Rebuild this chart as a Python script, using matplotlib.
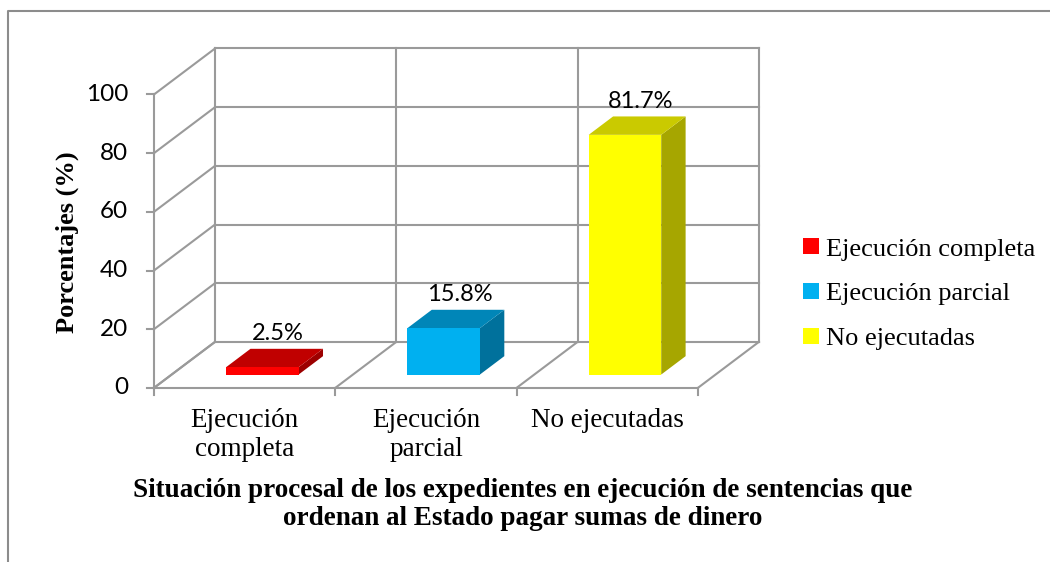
import matplotlib.pyplot as plt
from matplotlib.patches import Polygon, Patch
from matplotlib.lines import Line2D

# Data taken from the chart
categories = ["Ejecución\ncompleta", "Ejecución\nparcial", "No ejecutadas"]
legend_labels = ["Ejecución completa", "Ejecución parcial", "No ejecutadas"]
values = [2.5, 15.8, 81.7]
value_labels = ["2.5%", "15.8%", "81.7%"]
y_ticks = [0, 20, 40, 60, 80, 100]

# colors for front / top / side of each bar
front_colors = ["#FF0000", "#00B0F0", "#FFFF00"]
top_colors = ["#C00000", "#0086B8", "#CACA00"]
side_colors = ["#9C0000", "#00719C", "#A6A600"]

GRID = "#9A9A9A"
SERIF = "Liberation Serif"

# oblique "3d" setup, in data units (x = categories, y = percent)
DX = 0.3365   # depth shift in x
DY = 15.67    # depth shift in y
d0, d1 = 0.29, 0.69  # front / back of each bar as fraction of depth
bar_w = 0.40

fig = plt.figure(figsize=(10.5, 5.62), dpi=100)
ax = fig.add_axes([0, 0, 1, 1])
ax.set_xlim(-0.8494, 4.942)
ax.set_ylim(-59.35, 132.2)
ax.axis("off")

n = len(values)

# back wall
for v in y_ticks:
    ax.plot([DX, n + DX], [v + DY, v + DY], color=GRID, lw=1.5, zorder=1)
for i in range(n + 1):
    ax.plot([i + DX, i + DX], [DY, 100 + DY], color=GRID, lw=1.5, zorder=1)

# left wall
for v in y_ticks:
    ax.plot([0, DX], [v, v + DY], color=GRID, lw=1.5, zorder=1)
    ax.plot([-0.04, 0], [v, v], color=GRID, lw=1.5, zorder=1)  # tick mark
    ax.text(-0.143, v, str(v), ha="right", va="center", fontsize=17.5,
            family="Lato", color="#000000")
ax.plot([0, 0], [0, 100], color=GRID, lw=1.5, zorder=1)

# floor
ax.plot([0, n], [0, 0], color=GRID, lw=1.5, zorder=1)
for i in range(n + 1):
    ax.plot([i, i + DX], [0, DY], color=GRID, lw=1.5, zorder=1)
    ax.plot([i, i], [0, -2.4], color=GRID, lw=1.5, zorder=1)

# bars
for i, v in enumerate(values):
    x0 = i + 0.5 - bar_w / 2 + d0 * DX
    y0 = d0 * DY
    ddx = (d1 - d0) * DX
    ddy = (d1 - d0) * DY
    front = [(x0, y0), (x0 + bar_w, y0), (x0 + bar_w, y0 + v), (x0, y0 + v)]
    top = [(x0, y0 + v), (x0 + bar_w, y0 + v),
           (x0 + bar_w + ddx, y0 + v + ddy), (x0 + ddx, y0 + v + ddy)]
    side = [(x0 + bar_w, y0), (x0 + bar_w, y0 + v),
            (x0 + bar_w + ddx, y0 + v + ddy), (x0 + bar_w + ddx, y0 + ddy)]
    ax.add_patch(Polygon(side, closed=True, fc=side_colors[i], ec="none", zorder=3))
    ax.add_patch(Polygon(top, closed=True, fc=top_colors[i], ec="none", zorder=3))
    ax.add_patch(Polygon(front, closed=True, fc=front_colors[i], ec="none", zorder=4))
    # value label above the bar
    ax.text(i + 0.5 + 0.55 * DX, v + d1 * DY + 5.2, value_labels[i],
            ha="center", va="center", fontsize=17, family="Lato", zorder=5)

# category labels
for i, c in enumerate(categories):
    ax.text(i + 0.5, -6.9, c, ha="center", va="top", fontsize=19.5,
            family=SERIF, linespacing=1.2)

# axis titles
fig.text(67 / 1050, 0.569, "Porcentajes (%)", rotation=90, ha="center", va="center",
         fontsize=19, family=SERIF, fontweight="bold")
fig.text(0.498, 0.102, "Situación procesal de los expedientes en ejecución de sentencias que\n"
         "ordenan al Estado pagar sumas de dinero", ha="center", va="center",
         fontsize=19.5, family=SERIF, fontweight="bold", linespacing=1.13)

# legend
handles = [Patch(facecolor=c, edgecolor="none") for c in front_colors]
fig.legend(handles, legend_labels, loc="center left", bbox_to_anchor=(790 / 1050, 0.4765),
           frameon=False, prop={"family": SERIF, "size": 19}, handlelength=0.58,
           handleheight=0.58, handletextpad=0.27, labelspacing=0.85, borderpad=0)

# outer chart frame (only top and left are visible)
fig.add_artist(Line2D([8 / 1050, 8 / 1050, 1.0], [0.0, 1 - 11 / 562, 1 - 11 / 562],
                      transform=fig.transFigure, color="#8C8C8C", lw=1.5))

fig.savefig("out.png", dpi=100)
